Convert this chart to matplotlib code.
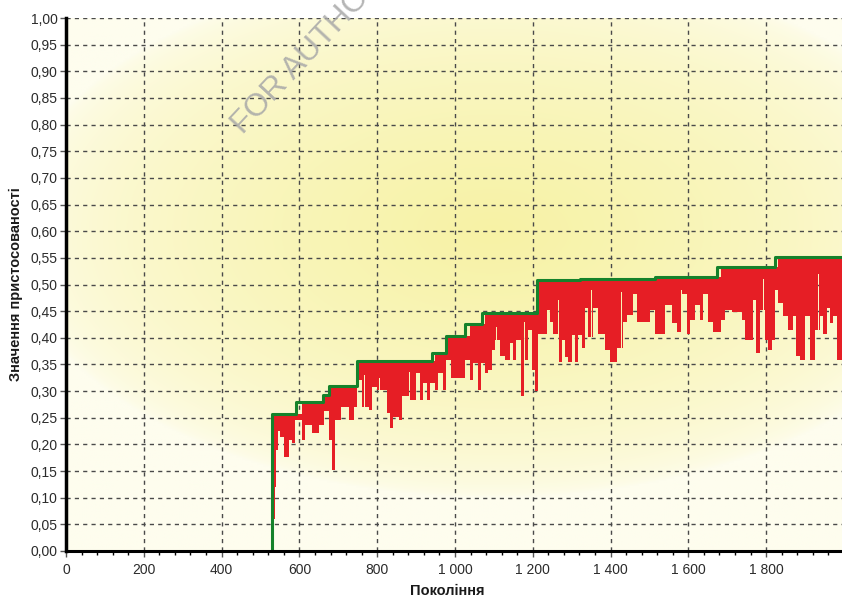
import matplotlib
matplotlib.use("Agg")
import matplotlib.pyplot as plt
import numpy as np
from matplotlib.ticker import AutoMinorLocator, FuncFormatter, MultipleLocator

# best fitness per generation (step changes only)
best_gen = [530, 530, 591, 660, 676, 748, 940, 977, 1026, 1069, 1210, 1321, 1514, 1673, 1823, 2000]
best_val = [0.0, 0.257, 0.279, 0.293, 0.310, 0.356, 0.372, 0.403, 0.425, 0.447, 0.508, 0.511,
            0.515, 0.532, 0.551, 0.551]

# average fitness of the population (step changes)
avg_gen = [530, 533, 537, 541, 545, 551, 560, 573, 581, 590, 607, 615, 633, 650, 663, 676, 684,
           691, 706, 727, 740, 749, 761, 779, 787, 800, 826, 834, 840, 856, 864, 881, 884, 901,
           910, 918, 927, 935, 948, 957, 970, 978, 991, 1025, 1038, 1047, 1060, 1068, 1077,
           1085, 1094, 1103, 1115, 1128, 1141, 1150, 1158, 1171, 1180, 1188, 1197, 1206, 1214,
           1236, 1244, 1253, 1266, 1274, 1283, 1291, 1300, 1308, 1317, 1326, 1334, 1343, 1356,
           1368, 1386, 1398, 1416, 1433, 1441, 1458, 1467, 1501, 1514, 1540, 1557, 1570, 1583,
           1596, 1604, 1617, 1630, 1638, 1651, 1664, 1685, 1694, 1711, 1737, 1745, 1767, 1775,
           1784, 1797, 1805, 1814, 1822, 1831, 1844, 1857, 1870, 1878, 1887, 1900, 1913, 1925,
           1938, 1947, 1956, 1964, 1973, 1981, 2000]
avg_val = [0.005, 0.06, 0.12, 0.19, 0.225, 0.214, 0.177, 0.208, 0.202, 0.246, 0.208, 0.237,
           0.221, 0.237, 0.262, 0.208, 0.152, 0.246, 0.271, 0.246, 0.271, 0.321, 0.271, 0.265,
           0.308, 0.302, 0.258, 0.230, 0.252, 0.246, 0.290, 0.280, 0.283, 0.334, 0.283, 0.315,
           0.283, 0.315, 0.302, 0.334, 0.302, 0.358, 0.324, 0.358, 0.321, 0.352, 0.302, 0.352,
           0.334, 0.339, 0.377, 0.396, 0.365, 0.358, 0.390, 0.358, 0.396, 0.290, 0.358, 0.415,
           0.339, 0.300, 0.408, 0.452, 0.430, 0.408, 0.355, 0.396, 0.364, 0.355, 0.405, 0.355,
           0.405, 0.380, 0.455, 0.402, 0.455, 0.408, 0.377, 0.355, 0.380, 0.430, 0.443, 0.483,
           0.430, 0.452, 0.408, 0.461, 0.427, 0.411, 0.483, 0.408, 0.433, 0.462, 0.433, 0.483,
           0.430, 0.411, 0.433, 0.452, 0.449, 0.433, 0.396, 0.471, 0.371, 0.452, 0.396, 0.377,
           0.396, 0.490, 0.465, 0.440, 0.415, 0.440, 0.365, 0.358, 0.440, 0.358, 0.415, 0.440,
           0.408, 0.455, 0.427, 0.440, 0.358, 0.358]

# single generations where the average came close to the best
spike_gen = [766, 805, 882, 1105, 1177, 1266, 1350, 1427, 1581, 1650, 1792, 1863, 1933]
spike_val = [0.330, 0.325, 0.335, 0.420, 0.430, 0.470, 0.490, 0.485, 0.490, 0.500, 0.510,
             0.535, 0.520]

x_ticks = [0, 200, 400, 600, 800, 1000, 1200, 1400, 1600, 1800]
x_tick_labels = ["0", "200", "400", "600", "800", "1 000", "1 200", "1 400", "1 600", "1 800"]


def step_at(gens, vals, at):
    idx = np.searchsorted(gens, at, side="right") - 1
    return np.asarray(vals)[idx]


plt.rcParams["font.family"] = ["Liberation Sans", "DejaVu Sans"]

fig = plt.figure(figsize=(8.42, 6.02), dpi=100)
ax = fig.add_axes([66 / 842, 51 / 602, 776 / 842, 533 / 602])
ax.set_xlim(0, 1995)
ax.set_ylim(0, 1.0)

# soft yellow glow behind the plot area
gy, gx = np.mgrid[0:1:300j, 0:1:400j]
r = np.sqrt(((gx - 0.55) / 0.62) ** 2 + ((gy - 0.6) / 0.5) ** 2)
t = np.clip(1 - r, 0, 1) ** 0.55
edge = np.array([254, 253, 238]) / 255
core = np.array([247, 242, 165]) / 255
bg = edge + (core - edge) * t[..., None]
ax.imshow(bg, extent=(0, 1, 0, 1), transform=ax.transAxes, origin="lower",
          aspect="auto", zorder=0, interpolation="bilinear")

# merge the one-generation spikes into the average series
sg = np.array(spike_gen, dtype=float)
g_all = np.concatenate([avg_gen, sg, sg + 2])
v_all = np.concatenate([avg_val, spike_val, step_at(avg_gen, avg_val, sg + 2)])
order = np.argsort(g_all, kind="stable")
g_all, v_all = g_all[order], v_all[order]

# red band between average and best
best_at = step_at(best_gen, best_val, g_all)
ax.fill_between(g_all, v_all, best_at, step="post", color="#e61e25", linewidth=0, zorder=3)
ax.plot(best_gen, best_val, drawstyle="steps-post", color="#15822b", linewidth=2.2, zorder=4)

ax.set_xticks(x_ticks, x_tick_labels)
ax.xaxis.set_minor_locator(AutoMinorLocator(5))
ax.yaxis.set_major_locator(MultipleLocator(0.05))
ax.yaxis.set_major_formatter(FuncFormatter(lambda v, _: f"{v:.2f}".replace(".", ",")))
ax.tick_params(axis="both", labelsize=10, labelcolor="#2b2b2b", color="#555555", direction="out")
ax.tick_params(axis="y", length=4, width=1, pad=2)
ax.tick_params(axis="x", which="major", length=4, width=1, pad=5)
ax.tick_params(axis="x", which="minor", length=3, width=1)

ax.grid(True, which="major", color="#4a4a4a", linestyle=(0, (3, 3)), linewidth=1, zorder=2)
ax.set_axisbelow(False)
for side in ("top", "right"):
    ax.spines[side].set_visible(False)
ax.spines["left"].set_linewidth(2.5)
ax.spines["bottom"].set_linewidth(2.2)
ax.spines["left"].set_zorder(5)
ax.spines["bottom"].set_zorder(5)

ax.set_xlabel("Покоління", fontsize=10.5, fontweight="bold", color="#1a1a1a")
ax.xaxis.set_label_coords(0.491, -0.062)
ax.xaxis.label.set_va("top")
ax.set_ylabel("Значення пристосованості", fontsize=10.5, fontweight="bold", color="#1a1a1a")
ax.yaxis.set_label_coords(-0.055, 0.5)

fig.text(248 / 842, 1 - 140 / 602, "FOR AUTHOR USE ONLY", fontsize=23, color="#a8a8a8",
         rotation=47, rotation_mode="anchor", ha="left", va="bottom", alpha=0.85, zorder=10)

fig.savefig("out.png", dpi=100)
